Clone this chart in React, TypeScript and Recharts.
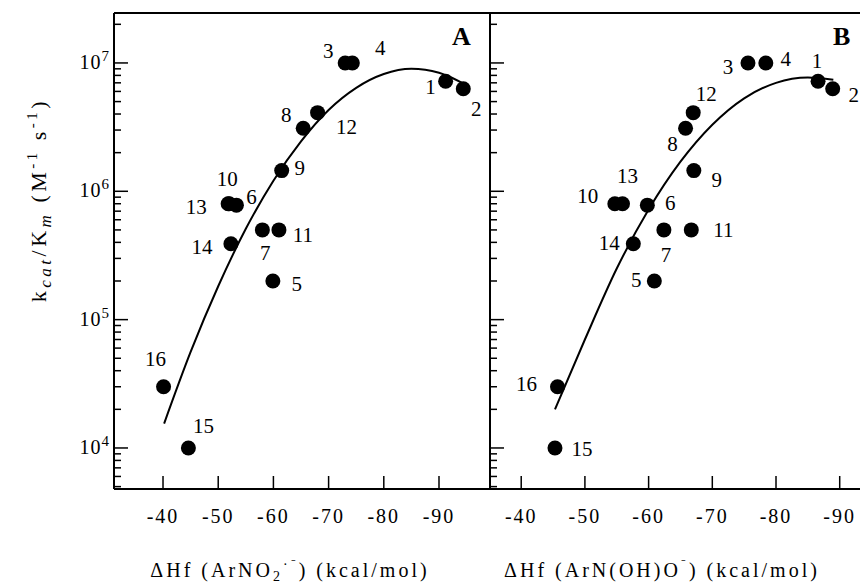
import React from 'react'
import { ComposedChart, Scatter, Line, XAxis, YAxis } from 'recharts'

// compounds 1..16, kcat/Km is shared by both panels
const compoundIds = ['1', '2', '3', '4', '5', '6', '7', '8', '9', '10', '11', '12', '13', '14', '15', '16']
const kcatKm = [7.2e6, 6.3e6, 1.0e7, 1.0e7, 2.0e5, 7.8e5, 5.0e5, 3.1e6, 1.45e6, 8.0e5, 5.0e5, 4.1e6, 8.0e5, 3.9e5, 1.0e4, 3.0e4]
const dHfNitro = [-91.2, -94.4, -73.0, -74.3, -59.9, -53.3, -58.0, -65.4, -61.5, -52.0, -61.0, -68.0, -51.8, -52.3, -44.6, -40.1]
const dHfHydroxy = [-86.6, -88.9, -75.6, -78.4, -60.9, -59.8, -62.4, -65.8, -67.1, -54.7, -66.7, -67.0, -55.9, -57.6, -45.3, -45.7]

// fitted curves
const fitNitroX = [-40.2, -45, -50, -55, -60, -65, -70, -75, -80, -85, -90, -95.3]
const fitNitroY = [1.55e4, 5.6e4, 1.82e5, 5.1e5, 1.21e6, 2.45e6, 4.3e6, 6.4e6, 8.2e6, 9.0e6, 8.4e6, 6.6e6]
const fitHydroxyX = [-45.3, -50, -55, -60, -65, -70, -75, -80, -85, -89]
const fitHydroxyY = [2.0e4, 7.0e4, 2.5e5, 7.2e5, 1.7e6, 3.3e6, 5.3e6, 7.0e6, 7.7e6, 7.4e6]

const xTicks = [-40, -50, -60, -70, -80, -90]
const yDecades = [1e4, 1e5, 1e6, 1e7]
const yExponents = ['4', '5', '6', '7']
const yMinorSteps = [2, 3, 4, 5, 6, 7, 8, 9]

const Y_MIN = 4790
const Y_MAX = 2.45e7
const yTicks = [1e3, ...yDecades]
  .flatMap((d) => [d, ...yMinorSteps.map((s) => d * s)])
  .filter((t) => t >= Y_MIN && t <= Y_MAX)

// label placement (px from dot centre)
const labelOffsetA: Record<string, [number, number]> = {
  '1': [-15, 6], '2': [13, 20], '3': [-17, -12], '4': [28, -15], '5': [24, 3], '6': [15, -8],
  '7': [3, 23], '8': [-17, -13], '9': [18, -3], '10': [-2, -25], '11': [24, 5], '12': [29, 14],
  '13': [-32, 3], '14': [-29, 3], '15': [15, -22], '16': [-8, -28],
}
const labelOffsetB: Record<string, [number, number]> = {
  '1': [-1, -20], '2': [21, 6], '3': [-20, 4], '4': [20, -4], '5': [-18, -1], '6': [23, -2],
  '7': [2, 25], '8': [-13, 16], '9': [23, 9], '10': [-27, -8], '11': [32, 0], '12': [13, -19],
  '13': [5, -28], '14': [-24, -1], '15': [27, 1], '16': [-31, -3],
}

const FONT = '"Liberation Serif", "Times New Roman", serif'

const pointsA = compoundIds.map((id, i) => ({ id, x: dHfNitro[i], y: kcatKm[i] }))
const pointsB = compoundIds.map((id, i) => ({ id, x: dHfHydroxy[i], y: kcatKm[i] }))
const fitA = fitNitroX.map((x, i) => ({ x, y: fitNitroY[i] }))
const fitB = fitHydroxyX.map((x, i) => ({ x, y: fitHydroxyY[i] }))

function LogTick(props: any) {
  const { x, y, payload, showLabel } = props
  const idx = yDecades.indexOf(payload.value)
  const major = idx >= 0
  return (
    <g>
      <line x1={x} x2={x + (major ? 14 : 7)} y1={y} y2={y} stroke="#000" strokeWidth={1.5} />
      {major && showLabel && (
        <text x={x - 4} y={y + 6} textAnchor="end" fontSize={20} letterSpacing={1} fontFamily={FONT} fill="#000">
          10<tspan dy={-8} fontSize={15}>{yExponents[idx]}</tspan>
        </text>
      )}
    </g>
  )
}

function XTick(props: any) {
  const { x, y, payload } = props
  return (
    <g>
      <line x1={x} x2={x} y1={y} y2={y - 13} stroke="#000" strokeWidth={1.5} />
      <text x={x} y={y + 34} textAnchor="middle" fontSize={20} letterSpacing={2} fontFamily={FONT} fill="#000">
        {payload.value}
      </text>
    </g>
  )
}

const makeDot = (offsets: Record<string, [number, number]>) => (props: any) => {
  const { cx, cy, payload } = props
  const [dx, dy] = offsets[payload.id]
  return (
    <g>
      <circle cx={cx} cy={cy} r={7.5} fill="#000" />
      <text x={cx + dx} y={cy + dy} textAnchor="middle" dominantBaseline="central" fontSize={21} fontFamily={FONT} fill="#000">
        {payload.id}
      </text>
    </g>
  )
}

const axisStroke = { stroke: '#000', strokeWidth: 2 }

function Panel({ points, fit, domain, offsets, yWidth, showLabels, width, margin }: any) {
  return (
    <ComposedChart width={width} height={587} margin={margin}>
      <XAxis
        type="number"
        dataKey="x"
        domain={domain}
        reversed
        allowDataOverflow
        ticks={xTicks}
        interval={0}
        tickSize={0}
        tickMargin={0}
        tickLine={false}
        tick={XTick}
        height={40}
        axisLine={axisStroke}
      />
      <XAxis
        xAxisId="top"
        orientation="top"
        type="number"
        domain={domain}
        reversed
        allowDataOverflow
        height={1}
        tick={false}
        tickLine={false}
        axisLine={axisStroke}
      />
      <YAxis
        type="number"
        scale="log"
        domain={[Y_MIN, Y_MAX]}
        allowDataOverflow
        ticks={yTicks}
        interval={0}
        tickSize={0}
        tickMargin={0}
        tickLine={false}
        width={yWidth}
        tick={(p: any) => <LogTick {...p} showLabel={showLabels} />}
        axisLine={axisStroke}
      />
      <Line data={fit} dataKey="y" type="monotone" stroke="#000" strokeWidth={2} dot={false} activeDot={false} isAnimationActive={false} />
      <Scatter data={points} dataKey="y" shape={makeDot(offsets)} isAnimationActive={false} />
    </ComposedChart>
  )
}

export default function App() {
  return (
    <div style={{ position: 'absolute', left: 0, top: 0, width: 860, height: 587, overflow: 'hidden', background: '#fff' }}>
      <div style={{ position: 'absolute', left: 0, top: 0 }}>
        <Panel
          points={pointsA}
          fit={fitA}
          domain={[-99.24, -31.12]}
          offsets={labelOffsetA}
          yWidth={114}
          showLabels
          width={500}
          margin={{ top: 12, right: 10, bottom: 58, left: 0 }}
        />
      </div>
      <div style={{ position: 'absolute', left: 480, top: 0 }}>
        <Panel
          points={pointsB}
          fit={fitB}
          domain={[-93.5, -35.1]}
          offsets={labelOffsetB}
          yWidth={1}
          showLabels={false}
          width={400}
          margin={{ top: 12, right: 18, bottom: 58, left: 9 }}
        />
      </div>
      <svg width={860} height={587} style={{ position: 'absolute', left: 0, top: 0, pointerEvents: 'none' }}>
        <g fontFamily={FONT} fill="#000">
          <text x={452} y={45} fontSize={26} fontWeight="bold">A</text>
          <text x={833} y={45} fontSize={26} fontWeight="bold">B</text>
          <text x={46} y={200} fontSize={22} letterSpacing={3.5} textAnchor="middle" transform="rotate(-90 46 200)">
            k<tspan fontStyle="italic" fontSize={17} dy={5}>cat</tspan>
            <tspan dy={-5}>/K</tspan>
            <tspan fontStyle="italic" fontSize={17} dy={5}>m</tspan>
            <tspan dy={-5}> (M</tspan>
            <tspan fontSize={15} dy={-9}>-1</tspan>
            <tspan dy={9}> s</tspan>
            <tspan fontSize={15} dy={-9}>-1</tspan>
            <tspan dy={9}>)</tspan>
          </text>
          <text x={290} y={577} fontSize={20} letterSpacing={3} textAnchor="middle">
            ΔHf (ArNO<tspan fontSize={14} dy={4}>2</tspan>
            <tspan fontSize={14} dy={-12}>·⁻</tspan>
            <tspan dy={8}>) (kcal/mol)</tspan>
          </text>
          <text x={662} y={577} fontSize={20} letterSpacing={3} textAnchor="middle">
            ΔHf (ArN(OH)O<tspan fontSize={14} dy={-8}>⁻</tspan>
            <tspan dy={8}>) (kcal/mol)</tspan>
          </text>
        </g>
      </svg>
    </div>
  )
}
